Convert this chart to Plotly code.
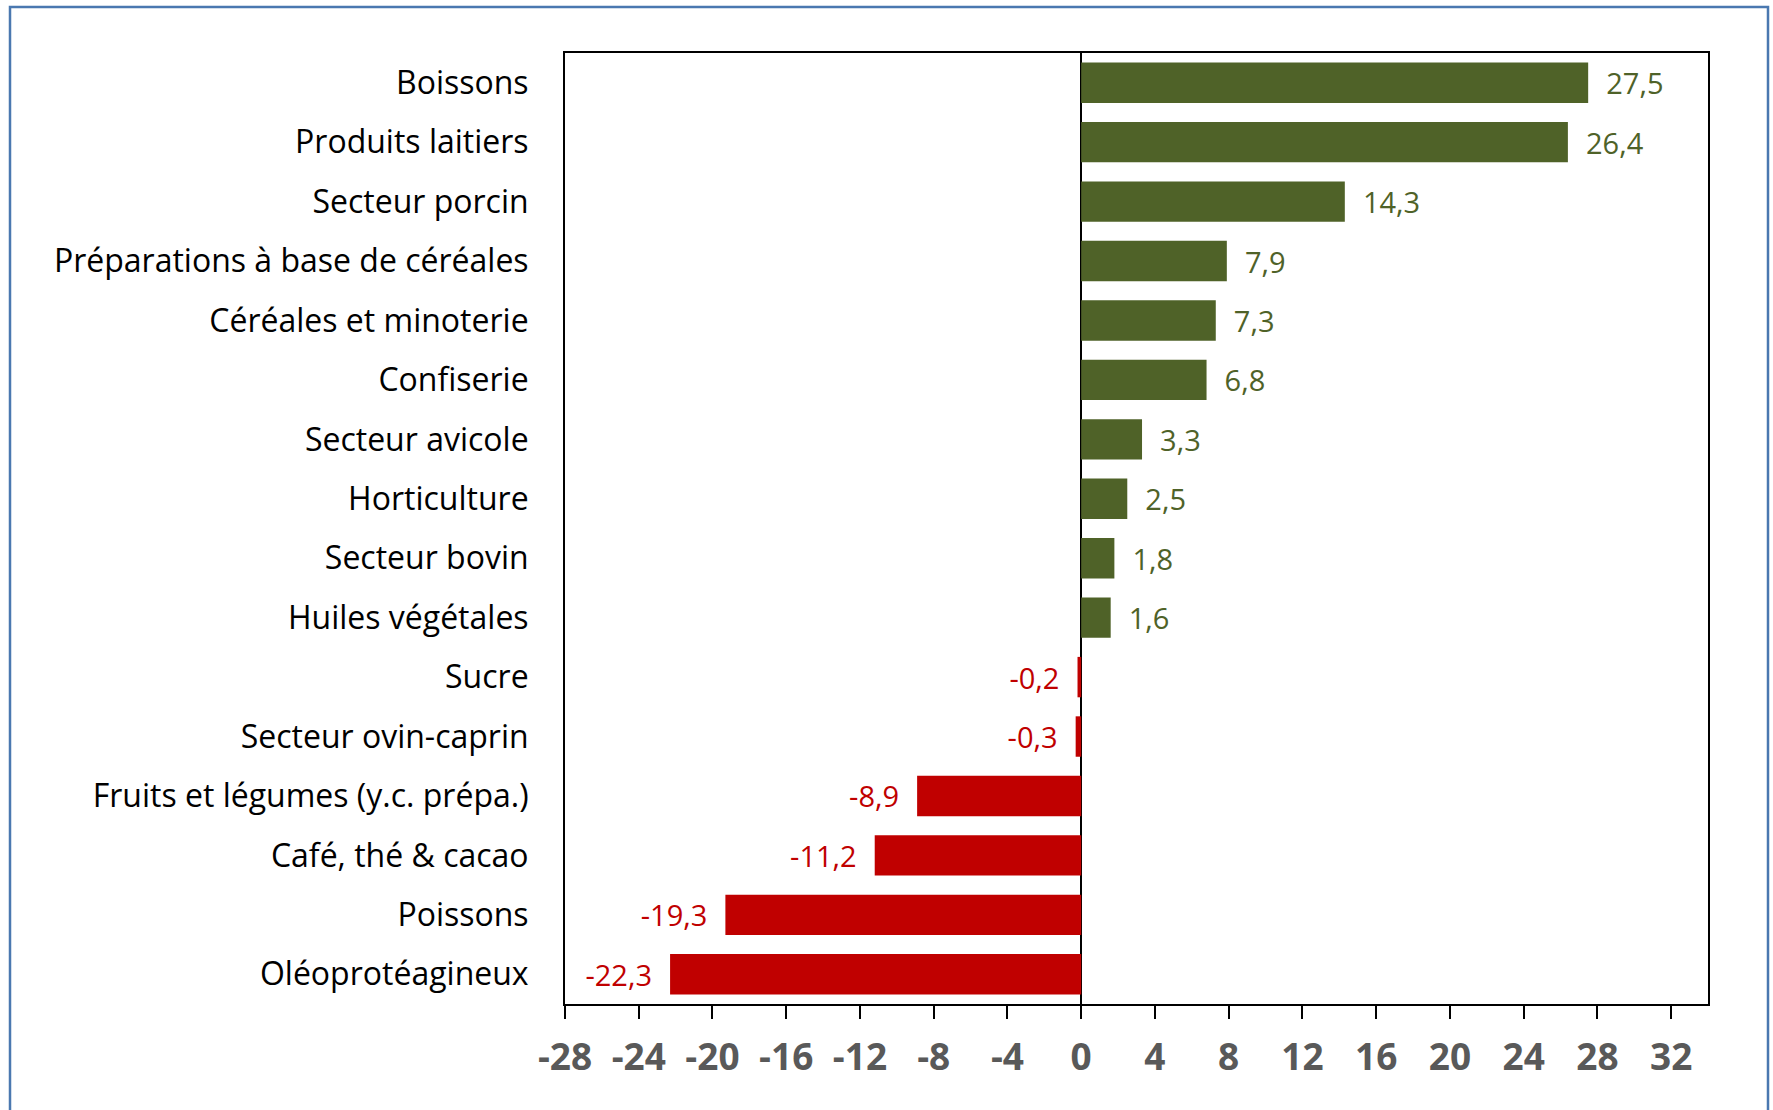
import plotly.graph_objects as go

categories = [
    "Boissons", "Produits laitiers", "Secteur porcin",
    "Préparations à base de céréales", "Céréales et minoterie", "Confiserie",
    "Secteur avicole", "Horticulture", "Secteur bovin", "Huiles végétales",
    "Sucre", "Secteur ovin-caprin", "Fruits et légumes (y.c. prépa.)",
    "Café, thé & cacao", "Poissons", "Oléoprotéagineux",
]
values = [27.5, 26.4, 14.3, 7.9, 7.3, 6.8, 3.3, 2.5, 1.8, 1.6,
          -0.2, -0.3, -8.9, -11.2, -19.3, -22.3]
tick_values = [-28, -24, -20, -16, -12, -8, -4, 0, 4, 8, 12, 16, 20, 24, 28, 32]
tick_labels = [str(v) for v in tick_values]

GREEN = "#4F6228"
RED = "#C00000"
colors = [GREEN if v >= 0 else RED for v in values]
labels = [("  " + f"{v:.1f}".replace(".", ",")) if v >= 0
          else (f"{v:.1f}".replace(".", ",") + "  ") for v in values]

W, H = 1773, 1110
ML, MR, MT, MB = 565, 65, 53, 106

fig = go.Figure(go.Bar(
    x=values, y=categories, orientation="h",
    marker=dict(color=colors, line=dict(width=0)),
    text=labels, textposition="outside",
    textfont=dict(family="Open Sans", size=29, color=colors),
    cliponaxis=False,
))

pw = W - ML - MR
ph = H - MT - MB
def px_x(p):
    return (p - ML) / pw
def px_y(p):
    return (H - MB - p) / ph

fig.add_shape(type="rect", xref="paper", yref="paper",
              x0=px_x(10), x1=px_x(1768), y0=px_y(1125), y1=px_y(7),
              line=dict(color="#4A78B0", width=2.5), fillcolor="rgba(0,0,0,0)",
              layer="below")

fig.update_layout(
    width=W, height=H,
    margin=dict(l=ML, r=MR, t=MT, b=MB, pad=0),
    paper_bgcolor="white", plot_bgcolor="white",
    bargap=0.32, showlegend=False,
    font=dict(family="Open Sans", color="black"),
)
fig.update_xaxes(
    range=[-28, 34], tickmode="array", tickvals=tick_values, ticktext=tick_labels,
    showgrid=False, zeroline=True, zerolinecolor="black", zerolinewidth=2,
    showline=True, linecolor="black", linewidth=2, mirror=True,
    ticks="outside", ticklen=13, tickwidth=2, tickcolor="black",
    tickfont=dict(family="Open Sans", size=37, color="#595959", weight="bold"),
    ticklabelstandoff=7,
)
fig.update_yaxes(
    range=[15.5, -0.5], showgrid=False, zeroline=False,
    showline=True, linecolor="black", linewidth=2, mirror=True,
    ticks="", tickfont=dict(family="Open Sans", size=32, color="black"),
    ticklabelstandoff=28,
)

fig.write_html("out.html", config={"displayModeBar": False},
               post_script="document.body.style.margin='0';document.body.style.overflow='hidden';")
